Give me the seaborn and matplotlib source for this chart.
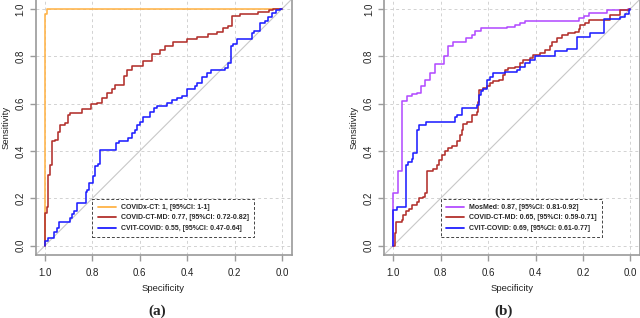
import matplotlib
matplotlib.use("Agg")
import matplotlib.pyplot as plt
import seaborn as sns
import pandas as pd

# ---------------- data (specificity, sensitivity) ----------------
# Panel (a)
a_covidx_spec = [1.0, 1.0, 0.99, 0.0]
a_covidx_sens = [0.0, 0.98, 1.0, 1.0]

a_ctmd_spec = [1.0, 1.0, 0.993, 0.986, 0.979, 0.972, 0.958, 0.944, 0.937, 0.916, 0.902,
               0.895, 0.845, 0.807, 0.782, 0.761, 0.740, 0.718, 0.705, 0.667, 0.655,
               0.634, 0.585, 0.550, 0.515, 0.494, 0.459, 0.402, 0.360, 0.311, 0.276,
               0.248, 0.227, 0.212, 0.177, 0.100, 0.054, 0.037, 0.0]
a_ctmd_sens = [0.0, 0.137, 0.165, 0.30, 0.34, 0.44, 0.447, 0.48, 0.51, 0.517, 0.55,
               0.562, 0.576, 0.597, 0.604, 0.625, 0.644, 0.66, 0.679, 0.717, 0.742,
               0.759, 0.78, 0.81, 0.827, 0.841, 0.862, 0.872, 0.879, 0.894, 0.904,
               0.918, 0.928, 0.97, 0.979, 0.985, 0.996, 1.0, 1.0]

a_cvit_spec = [1.0, 1.0, 0.986, 0.962, 0.951, 0.940, 0.895, 0.887, 0.878, 0.864, 0.827,
               0.822, 0.813, 0.799, 0.789, 0.775, 0.768, 0.700, 0.686, 0.649, 0.634,
               0.620, 0.613, 0.599, 0.588, 0.557, 0.540, 0.526, 0.487, 0.465, 0.442,
               0.423, 0.402, 0.367, 0.357, 0.339, 0.318, 0.301, 0.241, 0.227, 0.216,
               0.205, 0.189, 0.128, 0.118, 0.093, 0.072, 0.058, 0.043, 0.025, 0.008, 0.0]
a_cvit_sens = [0.0, 0.02, 0.031, 0.059, 0.073, 0.10, 0.116, 0.134, 0.147, 0.18, 0.228,
               0.235, 0.264, 0.292, 0.334, 0.345, 0.404, 0.432, 0.442, 0.454, 0.475,
               0.489, 0.51, 0.524, 0.545, 0.566, 0.58, 0.59, 0.602, 0.616, 0.625,
               0.63, 0.661, 0.672, 0.686, 0.71, 0.728, 0.742, 0.75, 0.77, 0.841,
               0.851, 0.872, 0.897, 0.908, 0.94, 0.95, 0.967, 0.981, 0.996, 1.0, 1.0]

# Panel (b)
b_mosmed_spec = [1.0, 1.0, 0.979, 0.962, 0.941, 0.922, 0.901, 0.884, 0.866, 0.845, 0.824,
                 0.786, 0.768, 0.747, 0.693, 0.669, 0.655, 0.631, 0.521, 0.486, 0.465,
                 0.444, 0.218, 0.197, 0.176, 0.098, 0.008, 0.0]
b_mosmed_sens = [0.0, 0.224, 0.313, 0.611, 0.63, 0.64, 0.646, 0.675, 0.70, 0.731, 0.766,
                 0.801, 0.841, 0.862, 0.876, 0.89, 0.908, 0.92, 0.925, 0.932, 0.942,
                 0.949, 0.96, 0.97, 0.984, 0.993, 1.0, 1.0]

b_ctmd_spec = [1.0, 0.992, 0.988, 0.965, 0.958, 0.946, 0.932, 0.922, 0.901, 0.891, 0.873,
               0.866, 0.856, 0.834, 0.814, 0.806, 0.796, 0.782, 0.768, 0.753, 0.732,
               0.718, 0.711, 0.707, 0.690, 0.669, 0.648, 0.641, 0.637, 0.620, 0.605,
               0.591, 0.578, 0.556, 0.538, 0.528, 0.514, 0.486, 0.465, 0.451, 0.422,
               0.409, 0.380, 0.359, 0.338, 0.331, 0.310, 0.289, 0.261, 0.232, 0.218,
               0.211, 0.190, 0.176, 0.084, 0.042, 0.007, 0.0]
b_ctmd_sens = [0.0, 0.052, 0.10, 0.109, 0.13, 0.144, 0.154, 0.172, 0.186, 0.20, 0.207,
               0.224, 0.313, 0.323, 0.341, 0.362, 0.383, 0.40, 0.411, 0.421, 0.44,
               0.468, 0.489, 0.514, 0.524, 0.552, 0.566, 0.608, 0.658, 0.665, 0.672,
               0.686, 0.697, 0.70, 0.721, 0.742, 0.75, 0.756, 0.77, 0.785, 0.792,
               0.806, 0.813, 0.827, 0.841, 0.862, 0.876, 0.89, 0.897, 0.904, 0.914,
               0.932, 0.942, 0.954, 0.975, 0.996, 1.0, 1.0]

b_cvit_spec = [1.0, 1.0, 0.983, 0.948, 0.937, 0.922, 0.916, 0.901, 0.891, 0.862, 0.739,
               0.730, 0.711, 0.645, 0.637, 0.629, 0.620, 0.605, 0.594, 0.578, 0.528,
               0.479, 0.465, 0.444, 0.422, 0.401, 0.317, 0.267, 0.225, 0.169, 0.113,
               0.042, 0.021, 0.007, 0.0]
b_cvit_sens = [0.0, 0.151, 0.162, 0.341, 0.352, 0.365, 0.39, 0.489, 0.51, 0.524, 0.541,
               0.552, 0.58, 0.594, 0.637, 0.651, 0.661, 0.70, 0.714, 0.728, 0.735,
               0.742, 0.756, 0.77, 0.785, 0.801, 0.82, 0.83, 0.883, 0.90, 0.956,
               0.967, 0.977, 0.996, 1.0]

a_labels = ["COVIDx-CT: 1, [95%CI: 1-1]",
            "COVID-CT-MD: 0.77, [95%CI: 0.72-0.82]",
            "CVIT-COVID: 0.55, [95%CI: 0.47-0.64]"]
b_labels = ["MosMed: 0.87, [95%CI: 0.81-0.92]",
            "COVID-CT-MD: 0.65, [95%CI: 0.59-0.71]",
            "CVIT-COVID: 0.69, [95%CI: 0.61-0.77]"]
ticks = [1.0, 0.8, 0.6, 0.4, 0.2, 0.0]
tick_labels = ["1.0", "0.8", "0.6", "0.4", "0.2", "0.0"]
yticks = [0.0, 0.2, 0.4, 0.6, 0.8, 1.0]
ytick_labels = ["0.0", "0.2", "0.4", "0.6", "0.8", "1.0"]

# ---------------- style ----------------
sns.set_theme(style="white")
plt.rcParams["font.family"] = ["Liberation Sans", "DejaVu Sans"]

C_ORANGE = "#FFB347"
C_RED = "#B2302C"
C_BLUE = "#1F1FFF"
C_PURPLE = "#B34DFF"
FRAME = "#9a9a9a"

fig = plt.figure(figsize=(6.4, 3.18), dpi=100)
ax_a = fig.add_axes([0.0555, 0.198, 0.4, 0.804])
ax_b = fig.add_axes([0.5997, 0.198, 0.4, 0.804])


def draw_panel(ax, series, labels):
    handles = []
    for spec, sens, col in series:
        df = pd.DataFrame({"spec": spec, "sens": sens})
        n_before = len(ax.lines)
        sns.lineplot(data=df, x="spec", y="sens", ax=ax, color=col, lw=1.15,
                     drawstyle="steps-post", sort=False, estimator=None,
                     zorder=3)
        handles.append(ax.lines[n_before])
    ax.set_xlim(1.04, -0.04)
    ax.set_ylim(-0.04, 1.04)
    ax.axline((1.0, 0.0), (0.0, 1.0), color="#c8c8c8", lw=0.8, zorder=1)
    for v in ticks:
        ax.axvline(v, color="#d2d2d2", lw=0.7, ls=(0, (3, 3)), zorder=0)
        ax.axhline(v, color="#d2d2d2", lw=0.7, ls=(0, (3, 3)), zorder=0)
    ax.set_xticks(ticks)
    ax.set_xticklabels(tick_labels)
    ax.set_yticks(yticks)
    ax.set_yticklabels(ytick_labels, rotation=90, va="center")
    ax.tick_params(axis="both", which="both", direction="out", length=4.5,
                   width=1.0, color=FRAME, labelsize=7, labelcolor="#222222",
                   bottom=True, left=True)
    ax.tick_params(axis="x", pad=5)
    ax.tick_params(axis="y", pad=2.5)
    for side in ["left", "bottom", "right", "top"]:
        ax.spines[side].set_visible(True)
        ax.spines[side].set_color(FRAME)
        ax.spines[side].set_linewidth(1.2)
    ax.set_xlabel("Specificity", fontsize=6.8, color="#222222", labelpad=4)
    ax.set_ylabel("Sensitivity", fontsize=6.8, color="#222222", labelpad=4)
    leg = ax.legend(handles=handles, labels=labels, loc="lower left",
                    bbox_to_anchor=(0.222, 0.07), borderaxespad=0,
                    prop={"weight": "bold", "size": 5.0}, handlelength=2.6,
                    handletextpad=0.8, labelspacing=0.5, borderpad=0.75,
                    frameon=True, fancybox=False)
    fr = leg.get_frame()
    fr.set_linestyle((0, (3, 2)))
    fr.set_edgecolor("#444444")
    fr.set_linewidth(0.7)
    fr.set_facecolor("white")
    fr.set_alpha(1.0)
    for line in leg.get_lines():
        line.set_linewidth(1.3)


draw_panel(ax_a, [(a_covidx_spec, a_covidx_sens, C_ORANGE),
                  (a_ctmd_spec, a_ctmd_sens, C_RED),
                  (a_cvit_spec, a_cvit_sens, C_BLUE)], a_labels)
draw_panel(ax_b, [(b_mosmed_spec, b_mosmed_sens, C_PURPLE),
                  (b_ctmd_spec, b_ctmd_sens, C_RED),
                  (b_cvit_spec, b_cvit_sens, C_BLUE)], b_labels)

fig.text(157.3 / 640, 1 - 311.7 / 318, "(a)", ha="center", va="center",
         fontsize=11, fontweight="bold", family=["Liberation Serif", "DejaVu Serif"])
fig.text(503.3 / 640, 1 - 311.7 / 318, "(b)", ha="center", va="center",
         fontsize=11, fontweight="bold", family=["Liberation Serif", "DejaVu Serif"])

fig.savefig("out.png", dpi=100)
